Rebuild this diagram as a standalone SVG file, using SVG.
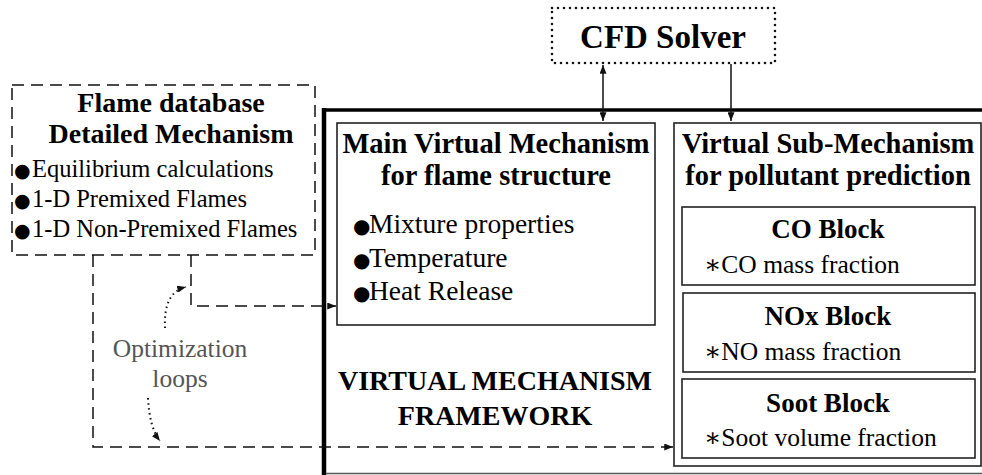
<svg xmlns="http://www.w3.org/2000/svg" width="982" height="475" viewBox="0 0 982 475">
<defs>
<style>
text{font-family:"Liberation Serif","DejaVu Serif","Times New Roman",serif;fill:#000}
.b{font-weight:bold}
.bul{font-family:"DejaVu Sans",sans-serif;font-weight:normal}
.box{fill:#fff;stroke:#222;stroke-width:1.6}
.dash{fill:none;stroke:#111;stroke-width:1.5;stroke-dasharray:12 7}
.dot{fill:none;stroke:#111;stroke-width:2;stroke-dasharray:1.5 3.5}
.ln{fill:none;stroke:#111;stroke-width:1.5}
.grey{fill:#555}
</style>
<marker id="ah" viewBox="0 0 10 8" refX="10" refY="4" markerWidth="9" markerHeight="7" markerUnits="userSpaceOnUse" orient="auto-start-reverse">
<path d="M0,0 L10,4 L0,8 Z" fill="#111"/>
</marker>
</defs>
<rect width="982" height="475" fill="#fff"/>

<g id="framework">
<line x1="324" y1="108" x2="324" y2="475" stroke="#000" stroke-width="4.5"/>
<line x1="322" y1="110" x2="982" y2="110" stroke="#000" stroke-width="3.5"/>
<line x1="326" y1="473.5" x2="982" y2="473.5" stroke="#555" stroke-width="1.5"/>
<text class="b" font-size="28" text-anchor="middle" x="495" y="390">VIRTUAL MECHANISM</text>
<text class="b" font-size="28" text-anchor="middle" x="495" y="425">FRAMEWORK</text>
</g>

<g id="cfd-solver">
<rect x="552" y="8" width="223" height="55" fill="none" stroke="#111" stroke-width="2.6" stroke-linecap="round" stroke-dasharray="0 6"/>
<text class="b" font-size="33" text-anchor="middle" x="663" y="48">CFD Solver</text>
</g>

<g id="flame-database">
<rect x="12" y="85" width="303" height="170" class="dash"/>
<text class="b" font-size="28" text-anchor="middle" x="171" y="112">Flame database</text>
<text class="b" font-size="28" text-anchor="middle" x="171" y="143">Detailed Mechanism</text>
<text font-size="24.5" y="177"><tspan class="bul" x="14" font-size="19">●</tspan><tspan x="32">Equilibrium calculations</tspan></text>
<text font-size="24.5" y="207"><tspan class="bul" x="14" font-size="19">●</tspan><tspan x="32">1-D Premixed Flames</tspan></text>
<text font-size="24.5" y="237"><tspan class="bul" x="14" font-size="19">●</tspan><tspan x="32">1-D Non-Premixed Flames</tspan></text>
</g>

<g id="main-virtual-mechanism">
<rect x="337" y="123" width="318" height="202" class="box"/>
<text class="b" font-size="28.5" text-anchor="middle" x="496" y="153">Main Virtual Mechanism</text>
<text class="b" font-size="28.5" text-anchor="middle" x="496" y="185">for flame structure</text>
<text font-size="27.5" y="233"><tspan class="bul" x="353" font-size="20">●</tspan><tspan x="369">Mixture properties</tspan></text>
<text font-size="27.5" y="267"><tspan class="bul" x="353" font-size="20">●</tspan><tspan x="369">Temperature</tspan></text>
<text font-size="27.5" y="300"><tspan class="bul" x="353" font-size="20">●</tspan><tspan x="369">Heat Release</tspan></text>
</g>

<g id="virtual-sub-mechanism">
<rect x="674" y="123" width="307" height="343" class="box"/>
<text class="b" font-size="28.5" text-anchor="middle" x="828" y="153">Virtual Sub-Mechanism</text>
<text class="b" font-size="28.5" text-anchor="middle" x="828" y="185">for pollutant prediction</text>
</g>

<g id="co-block">
<rect x="682" y="207" width="293" height="78" class="box"/>
<text class="b" font-size="27" text-anchor="middle" x="828" y="238">CO Block</text>
<text font-size="25.5" x="704" y="273">∗CO mass fraction</text>
</g>

<g id="nox-block">
<rect x="683" y="293" width="292" height="79" class="box"/>
<text class="b" font-size="27" text-anchor="middle" x="828" y="325">NOx Block</text>
<text font-size="25.5" x="704" y="360">∗NO mass fraction</text>
</g>

<g id="soot-block">
<rect x="682" y="379" width="293" height="79" class="box"/>
<text class="b" font-size="27" text-anchor="middle" x="828" y="412">Soot Block</text>
<text font-size="25.5" x="704" y="446">∗Soot volume fraction</text>
</g>

<g id="optimization-loops">
<text class="grey" font-size="25.5" text-anchor="middle" x="180" y="357">Optimization</text>
<text class="grey" font-size="25.5" text-anchor="middle" x="180" y="387">loops</text>
</g>

<g id="connectors">
<line x1="603" y1="65" x2="603" y2="121" class="ln" marker-start="url(#ah)" marker-end="url(#ah)"/>
<line x1="731" y1="64" x2="731" y2="121" class="ln" marker-end="url(#ah)"/>
<path d="M191,255 V306 H336" class="dash" marker-end="url(#ah)"/>
<path d="M93,255 V447 H673" class="dash" marker-end="url(#ah)"/>
<path d="M165,328 C164,305 170,291 186,287" class="dot" marker-end="url(#ah)"/>
<path d="M148,398 C149,418 153,432 160,441" class="dot" marker-end="url(#ah)"/>
</g>
</svg>
